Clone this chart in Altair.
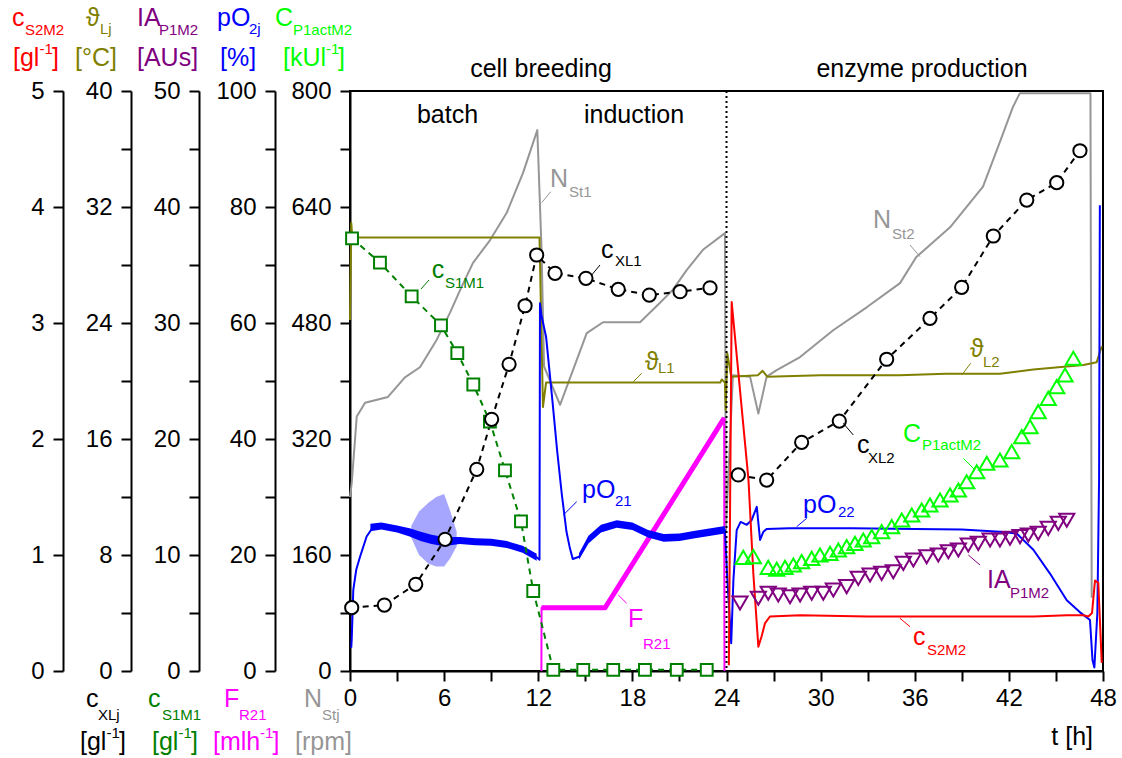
import altair as alt
import pandas as pd

W, H = 753, 580
LEFT, TOP = 350, 91
FONT = "Liberation Sans, Arial, DejaVu Sans"

RED = "#ff0000"; OLIVE = "#808000"; PURPLE = "#800080"; BLUE = "#0000ff"
LIME = "#00ff00"; GREEN = "#008000"; MAGENTA = "#ff00ff"; GRAY = "#969696"; BLACK = "#000000"

# ---------------- data ----------------
# stirrer speed N_St [rpm], axis 0-800
NST_T = [0.0, 0.11, 0.43, 0.96, 2.42, 3.5, 4.46, 5.53, 6.37, 7.01, 7.84, 8.92, 9.99, 11.03, 11.94,
         12.21, 12.37, 13.39, 15.09, 16.13, 18.49, 19.76, 20.59, 21.46, 22.5, 23.9, 23.96, 24.41,
         25.5, 26.03, 26.56, 27.2, 28.69, 30.8, 32.96, 35.06, 36.1, 38.25, 40.35, 41.4, 42.26, 42.7,
         47.2, 47.28]
NST_V = [240, 259, 351, 370, 378, 405, 419, 457, 494, 525, 563, 594, 632, 687, 746,
         581, 420, 367, 466, 481, 481, 508, 526, 553, 581, 604, 194, 408,
         406, 355, 406, 415, 433, 470, 502, 535, 571, 612, 668, 728, 778, 797,
         797, 101]

# temperature theta_L [degC], axis 0-40
TH_T = [0.0, 0.08, 0.15, 12.08, 12.3, 12.5, 23.6, 23.7, 23.9, 23.95, 24.05, 24.3, 26.0, 26.3, 26.6,
        30.0, 35.0, 38.0, 41.43, 43.56, 45.69, 46.75, 47.6, 47.92]
TH_V = [24.2, 30.9, 29.9, 29.9, 18.2, 19.9, 19.9, 20.1, 19.9, 18.0, 21.9, 20.3, 20.4, 20.7, 20.3,
        20.4, 20.4, 20.5, 20.5, 20.8, 21.0, 21.1, 21.3, 22.4]

# biomass c_XL [g/l], axis 0-40
XL1_T = [0.11, 2.19, 4.19, 6.06, 8.08, 9.03, 10.14, 11.16, 11.9, 13.07, 15.04, 17.1, 19.08, 21.04, 22.95]
XL1_V = [4.37, 4.55, 5.98, 9.08, 13.91, 17.36, 21.15, 25.19, 28.69, 27.43, 27.08, 26.32, 25.93, 26.16, 26.43]
XL2_T = [24.75, 26.56, 28.79, 31.19, 34.21, 36.97, 38.99, 41.01, 43.14, 45.05, 46.53]
XL2_V = [13.52, 13.17, 15.77, 17.24, 21.5, 24.32, 26.46, 30.0, 32.48, 33.68, 35.88]

# substrate c_S1M1 [g/l], axis 0-50
S1_T = [0.13, 1.91, 3.93, 5.8, 6.84, 7.86, 8.92, 9.88, 10.9, 11.68, 12.96, 14.87, 16.78, 18.8, 20.83, 22.74]
S1_V = [37.3, 35.2, 32.3, 29.8, 27.4, 24.7, 21.5, 17.3, 12.9, 6.9, 0.1, 0.1, 0.1, 0.1, 0.1, 0.1]

# intracellular activity IA_P1M2 [AUs], axis 0-50
IA_T = [24.86, 26.03, 26.66, 27.3, 28.05, 28.69, 29.43, 30.17, 30.81, 31.66, 32.4, 33.15, 33.89, 34.63,
        35.27, 35.91, 36.76, 37.5, 38.14, 38.78, 39.41, 40.05, 40.8, 41.43, 42.07, 42.71, 43.24, 43.87,
        44.51, 45.15, 45.69]
IA_V = [5.86, 6.27, 6.70, 6.55, 6.40, 6.55, 6.70, 6.70, 6.98, 7.27, 7.99, 8.28, 8.42, 8.56,
        9.28, 9.57, 9.85, 10.0, 10.28, 10.43, 10.86, 11.0, 11.29, 11.29, 11.44, 11.58, 11.72, 11.87,
        12.3, 12.73, 13.0]

# active enzyme C_P1actM2 [kU/l], axis 0-800
CP_T = [25.07, 25.71, 26.66, 27.2, 27.73, 28.26, 28.79, 29.43, 29.96, 30.6, 31.13, 31.66, 32.19, 32.72,
        33.26, 33.89, 34.53, 35.17, 35.81, 36.44, 36.97, 37.61, 38.25, 38.78, 39.31, 39.95, 40.59, 41.43,
        42.18, 42.82, 43.35, 43.87, 44.51, 45.05, 45.58, 46.11]
CP_V = [156.8, 157.7, 143, 140.3, 143, 146.2, 150.8, 155.4, 160, 162.3, 166.9, 171.5, 176.1, 180.7,
        185.3, 192.2, 199.1, 208.3, 215.2, 222.1, 229, 235.9, 242.8, 249.7, 261, 274.9, 286.5, 291,
        302.5, 323.2, 337, 357.7, 376.1, 392.2, 408.3, 431.3]

# dissolved oxygen pO2 [%], axis 0-100
PO_T = [0.08, 0.11, 0.21, 0.4, 0.64, 1.06, 1.49, 2.0, 3.0, 4.0, 5.0, 6.0, 7.0, 8.0, 9.0, 10.0, 11.0,
        11.9, 12.08, 12.11, 12.2, 12.5, 12.9, 13.2, 13.5, 13.8, 14.0, 14.2, 14.6, 15.2, 16.0, 17.0,
        18.0, 19.0, 20.0, 21.0, 22.0, 23.0, 23.9, 24.05, 24.3, 24.44, 24.65, 24.9, 25.29, 25.6, 25.93,
        26.14, 26.35, 26.56, 28.0, 32.0, 36.0, 39.0, 41.43, 42.5, 43.56, 44.62, 45.69, 46.5, 47.17,
        47.33, 47.45, 47.64, 47.75, 47.8]
PO_V = [4.0, 5.5, 14.0, 17.5, 19.7, 23.2, 24.9, 25.0, 24.5, 23.8, 22.8, 22.3, 22.5, 22.3, 22.2, 21.8, 21.0,
        19.6, 19.2, 63.4, 61.4, 57.6, 46.7, 38.1, 30.5, 24.0, 21.4, 19.3, 19.7, 22.6, 24.5, 25.3,
        24.9, 23.6, 22.9, 23.0, 23.5, 23.9, 24.3, 16.0, 4.8, 15.7, 24.3, 25.7, 25.2, 26.0, 28.3,
        22.6, 24.0, 24.5, 24.6, 24.6, 24.5, 24.4, 24.0, 23.7, 20.9, 16.8, 12.2, 10.2, 8.8,
        1.9, 0.6, 10.0, 33.0, 80.3]
# noisy envelope of pO2 (dense core and spike region)
PB1_T = [1.3, 2.0, 3.0, 3.8, 4.5, 5.2, 5.8, 6.4, 7.0, 8.0, 9.0, 10.0, 11.0, 11.9]
PB1_LO = [24.1, 24.4, 23.9, 23.2, 22.4, 21.9, 21.6, 21.7, 21.9, 21.7, 21.6, 21.2, 20.4, 19.0]
PB1_HI = [25.4, 25.6, 25.1, 24.6, 24.0, 23.5, 23.2, 23.1, 23.1, 22.9, 22.8, 22.4, 21.6, 20.2]
PB2_T = [3.9, 4.4, 5.0, 5.5, 6.0, 6.4, 6.8]
PB2_LO = [23.0, 20.0, 18.5, 18.0, 18.0, 19.5, 21.5]
PB2_HI = [25.0, 27.5, 29.0, 30.0, 30.5, 27.5, 24.0]
PB3_T = [14.6, 15.2, 16.0, 17.0, 18.0, 19.0, 20.0, 21.0, 22.0, 23.0, 23.9]
PB3_LO = [19.2, 22.0, 23.9, 24.7, 24.3, 23.0, 22.3, 22.4, 22.9, 23.3, 23.7]
PB3_HI = [20.3, 23.3, 25.2, 26.0, 25.6, 24.3, 23.6, 23.7, 24.2, 24.6, 25.0]

# feed rate F_R21 [ml/h], axis 0-100
FR_T = [12.2, 12.21, 16.26, 23.85, 23.87]
FR_V = [0.0, 10.9, 10.9, 43.6, 0.0]

# substrate c_S2M2 [g/l], axis 0-5
S2_T = [24.15, 24.33, 25.4, 25.71, 26.03, 26.24, 26.45, 26.77, 28.7, 33.0, 39.4, 43.6, 45.7, 46.75,
        47.07, 47.3, 47.49, 47.7, 47.92]
S2_V = [0.05, 3.18, 1.65, 0.84, 0.21, 0.30, 0.41, 0.47, 0.48, 0.47, 0.47, 0.47, 0.48, 0.48,
        0.47, 0.50, 0.78, 0.76, 0.07]

PHASE_T = [24.0]

# ---------------- texts (page pixel positions) ----------------
ANN_LEFT = [
    ("c", 12, 26, 25, RED), ("S2M2", 25, 35, 15, RED),
    ("[gl", 13, 66, 25, RED), ("-1", 39.5, 54, 15, RED), ("]", 52, 66, 25, RED),
    ("\u03d1", 86, 26, 25, OLIVE), ("Lj", 100, 34, 15, OLIVE),
    ("[\u00b0C]", 75, 66, 25, OLIVE),
    ("IA", 137, 26, 25, PURPLE), ("P1M2", 159, 35, 15, PURPLE),
    ("[AUs]", 137, 66, 25, PURPLE),
    ("pO", 217, 26, 25, BLUE), ("2j", 249, 34, 15, BLUE),
    ("[%]", 220, 66, 25, BLUE),
    ("C", 275, 26, 25, LIME), ("P1actM2", 293, 35, 15, LIME),
    ("[kUl", 283, 66, 25, LIME), ("-1", 326, 54, 15, LIME), ("]", 338, 66, 25, LIME),
    ("c", 86, 707, 25, BLACK), ("XLj", 98, 720, 15, BLACK),
    ("[gl", 80, 750, 25, BLACK), ("-1", 106.5, 738, 15, BLACK), ("]", 119, 750, 25, BLACK),
    ("c", 148, 707, 25, GREEN), ("S1M1", 162, 720, 15, GREEN),
    ("[gl", 152, 750, 25, GREEN), ("-1", 178.5, 738, 15, GREEN), ("]", 191, 750, 25, GREEN),
    ("F", 224, 707, 25, MAGENTA), ("R21", 239, 720, 15, MAGENTA),
    ("[mlh", 213, 750, 25, MAGENTA), ("-1", 260, 738, 15, MAGENTA), ("]", 272.5, 750, 25, MAGENTA),
    ("N", 304, 707, 25, GRAY), ("Stj", 322, 720, 15, GRAY),
    ("[rpm]", 295, 750, 25, GRAY),
    ("N", 550, 187, 25, GRAY), ("St1", 569, 197, 15, GRAY),
    ("c", 431.7, 278, 25, GREEN), ("S1M1", 445, 288, 15, GREEN),
    ("c", 601, 258, 25, BLACK), ("XL1", 615, 266, 15, BLACK),
    ("\u03d1", 645, 370, 25, OLIVE), ("L1", 658, 373, 15, OLIVE),
    ("pO", 582, 498, 25, BLUE), ("21", 615, 506, 15, BLUE),
    ("F", 628, 627, 25, MAGENTA), ("R21", 643, 649, 15, MAGENTA),
    ("N", 873, 228, 25, GRAY), ("St2", 892, 239, 15, GRAY),
    ("\u03d1", 970, 357, 25, OLIVE), ("L2", 983, 367, 15, OLIVE),
    ("c", 857, 453, 25, BLACK), ("XL2", 868, 463, 15, BLACK),
    ("C", 903, 442, 25, LIME), ("P1actM2", 922, 450, 15, LIME),
    ("pO", 803, 513, 25, BLUE), ("22", 838, 517, 15, BLUE),
    ("IA", 987, 588, 25, PURPLE), ("P1M2", 1010, 598, 15, PURPLE),
    ("c", 913, 645, 25, RED), ("S2M2", 927, 655, 15, RED),
]
ANN_CENTER = [
    ("cell breeding", 541, 77, 25, BLACK), ("enzyme production", 922, 77, 25, BLACK),
    ("batch", 447.5, 123, 25, BLACK), ("induction", 634, 123, 25, BLACK),
]
ANN_RIGHT = [("t [h]", 1093, 745, 25, BLACK)]
LEADERS = [
    (541.7, 202.7, 550.7, 191.7, GRAY), (421, 289, 429, 280, GREEN), (591.7, 275, 600, 265, BLACK),
    (633.3, 381.7, 641.7, 373.3, OLIVE), (563.3, 515, 576.7, 501.7, BLUE), (618.3, 595, 626.7, 603.3, MAGENTA),
    (910, 245, 920, 256.7, GRAY), (961.7, 375, 970.7, 363.3, OLIVE), (843.3, 423.3, 853.3, 435, BLACK),
    (963.3, 458.3, 975, 470, LIME), (796.7, 526.7, 806.7, 518.3, BLUE), (968.3, 555, 980, 565, PURPLE),
    (900, 618.3, 910, 626.7, RED),
]


# ---------------- helpers ----------------
def frame(ts, vs, **extra):
    d = pd.DataFrame({"t": ts, "v": vs})
    d["i"] = range(len(d))
    for k, val in extra.items():
        d[k] = val
    return d


def tsc():
    return alt.Scale(domain=[0, 48], nice=False, zero=False)


def ysc(lo, hi):
    return alt.Scale(domain=[lo, hi], nice=False, zero=False)


def yaxis(step, lab, top, offset):
    n = int(round(top / step))
    vals = [round(k * step, 6) for k in range(n + 1)]
    return alt.Axis(orient="left", offset=offset, values=vals, format="d", title=None,
                    labelOverlap=False, labelFlush=False,
                    labelExpr=f"datum.value % {lab} == 0 ? datum.label : ''")


def line(df, dom, color, width=2, dash=None, xaxis=None, yaxis_=None, detail=None):
    kw = dict(color=color, strokeWidth=width, strokeJoin="round")
    if dash:
        kw["strokeDash"] = dash
    enc = dict(x=alt.X("t:Q", scale=tsc(), axis=xaxis),
               y=alt.Y("v:Q", scale=ysc(*dom), axis=yaxis_),
               order=alt.Order("i:Q"))
    if detail:
        enc["detail"] = detail
    return alt.Chart(df).mark_line(**kw).encode(**enc)


def points(df, dom, shape, color, size, fill):
    kw = dict(shape=shape, stroke=color, strokeWidth=2, size=size, opacity=1)
    if fill:
        kw.update(filled=True, fill=fill, fillOpacity=1)
    else:
        kw.update(filled=False)
    return alt.Chart(df).mark_point(**kw).encode(
        x=alt.X("t:Q", scale=tsc(), axis=None),
        y=alt.Y("v:Q", scale=ysc(*dom), axis=None))


def band(ts, lo, hi, color, opacity):
    d = pd.DataFrame({"t": ts, "lo": lo, "hi": hi})
    return alt.Chart(d).mark_area(color=color, opacity=opacity).encode(
        x=alt.X("t:Q", scale=tsc(), axis=None),
        y=alt.Y("lo:Q", scale=ysc(0, 100), axis=None),
        y2="hi:Q")


def px_x(f):
    return alt.X(f"{f}:Q", scale=alt.Scale(domain=[0, W], range=[0, W], nice=False, zero=False), axis=None)


def px_y(f):
    return alt.Y(f"{f}:Q", scale=alt.Scale(domain=[0, H], reverse=True, nice=False, zero=False), axis=None)


def texts(rows, align):
    d = pd.DataFrame(rows, columns=["text", "x", "y", "size", "color"])
    d["px"] = d["x"] - LEFT
    d["py"] = d["y"] - TOP
    return alt.Chart(d).mark_text(font=FONT, align=align, baseline="alphabetic").encode(
        x=px_x("px"), y=px_y("py"), text="text:N",
        color=alt.Color("color:N", scale=None), size=alt.Size("size:Q", scale=None))


# ---------------- layers ----------------
xaxis = alt.Axis(orient="bottom", values=list(range(0, 49, 3)), format="d", title=None,
                 labelFlush=False, labelOverlap=False, labelPadding=5,
                 labelExpr="datum.value % 6 == 0 ? datum.label : ''")

nst = line(frame(NST_T, NST_V), (0, 800), GRAY, xaxis=xaxis, yaxis_=yaxis(80, 160, 800, 0))
theta = line(frame(TH_T, TH_V), (0, 40), OLIVE)
fr_df = frame(FR_T, FR_V)
fr_thin = line(fr_df, (0, 100), MAGENTA, width=2)
fr_thick = line(fr_df[(fr_df.t > 12.205) & (fr_df.t < 23.86)], (0, 100), MAGENTA, width=5)
pb1 = band(PB1_T, PB1_LO, PB1_HI, BLUE, 1.0)
pb2 = band(PB2_T, PB2_LO, PB2_HI, BLUE, 0.35)
pb3 = band(PB3_T, PB3_LO, PB3_HI, BLUE, 1.0)
po2 = line(frame(PO_T, PO_V), (0, 100), BLUE, yaxis_=yaxis(10, 20, 100, 75))
s2 = line(frame(S2_T, S2_V), (0, 5), RED, yaxis_=yaxis(0.5, 1, 5, 287))
s1_df = frame(S1_T, S1_V)
s1_line = line(s1_df, (0, 50), GREEN, dash=[6, 5], yaxis_=yaxis(5, 10, 50, 151))
s1_pts = points(s1_df, (0, 50), "square", GREEN, 140, "white")
xl_df = pd.concat([frame(XL1_T, XL1_V, seg="a"), frame(XL2_T, XL2_V, seg="b")], ignore_index=True)
xl_line = line(xl_df, (0, 40), BLACK, dash=[6, 5], yaxis_=yaxis(4, 8, 40, 219), detail="seg:N")
xl_pts = points(xl_df, (0, 40), "circle", BLACK, 175, "white")
ia_pts = points(frame(IA_T, IA_V), (0, 50), "triangle-down", PURPLE, 230, None)
cp_pts = points(frame(CP_T, CP_V), (0, 800), "triangle-up", LIME, 230, None)

phase = alt.Chart(pd.DataFrame({"t": PHASE_T})).mark_rule(
    color="black", strokeWidth=2, strokeDash=[2, 3]).encode(x=alt.X("t:Q", scale=tsc(), axis=None))

ld = pd.DataFrame(LEADERS, columns=["x1", "y1", "x2", "y2", "color"])
ld["px1"] = ld.x1 - LEFT; ld["px2"] = ld.x2 - LEFT
ld["py1"] = ld.y1 - TOP; ld["py2"] = ld.y2 - TOP
leaders = alt.Chart(ld).mark_rule(strokeWidth=1).encode(
    x=px_x("px1"), y=px_y("py1"), x2="px2:Q", y2="py2:Q", color=alt.Color("color:N", scale=None))

chart = alt.layer(
    nst, theta, fr_thin, fr_thick, pb2, pb1, pb3, po2, s2, s1_line, xl_line,
    s1_pts, xl_pts, ia_pts, cp_pts, phase, leaders,
    texts(ANN_LEFT, "left"), texts(ANN_CENTER, "center"), texts(ANN_RIGHT, "right"),
).resolve_scale(x="independent", y="independent").properties(
    width=W, height=H,
    autosize=alt.AutoSizeParams(type="none"),
    padding={"left": LEFT, "top": TOP, "right": 1122 - LEFT - W, "bottom": 758 - TOP - H},
).configure_axis(
    domainColor="black", domainWidth=2, tickColor="black", tickWidth=2, tickSize=10,
    labelFont=FONT, labelFontSize=24, labelColor="black", grid=False, labelPadding=9,
).configure_view(stroke="black", strokeWidth=2)

chart.save("out.html", embed_options={"renderer": "svg", "actions": False})
